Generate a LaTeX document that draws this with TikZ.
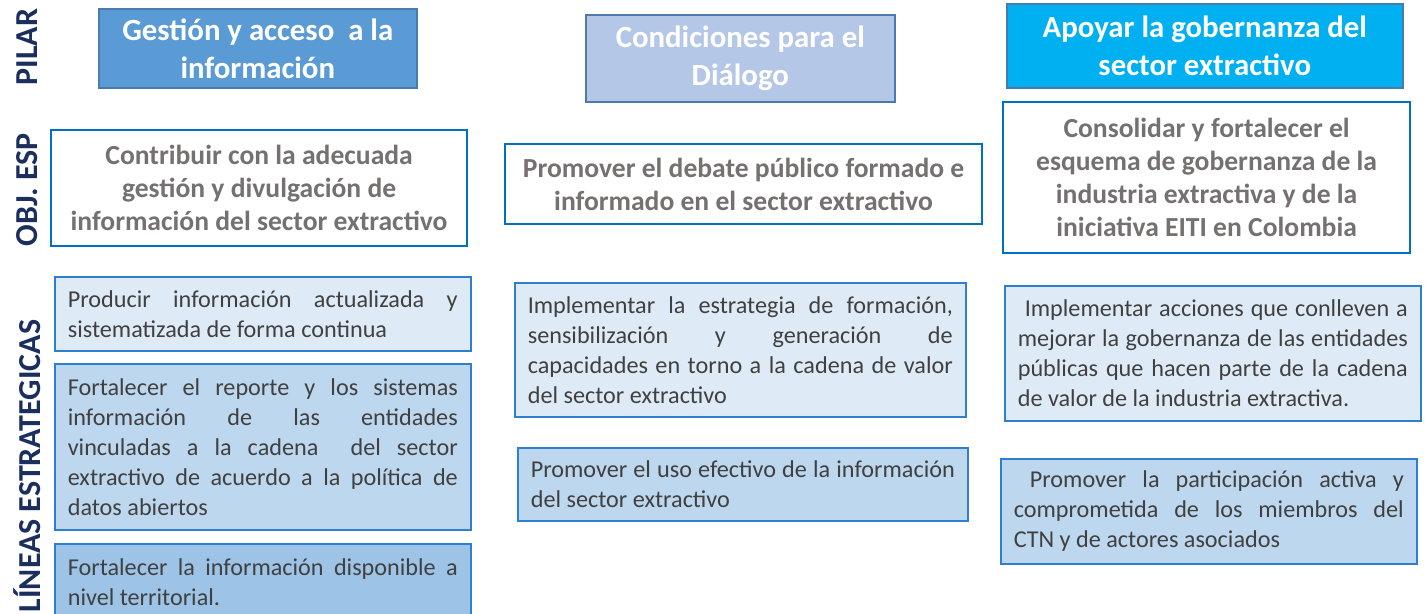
\documentclass[tikz,border=0pt]{standalone}
\usepackage{fontspec}
\setmainfont{Carlito}
\usetikzlibrary{positioning}
\definecolor{pilarA}{HTML}{5B9BD5}
\definecolor{pilarB}{HTML}{B4C7E7}
\definecolor{pilarC}{HTML}{00B0F0}
\definecolor{pilarEdge}{HTML}{4A7AAE}
\definecolor{objEdge}{HTML}{0070C0}
\definecolor{objText}{HTML}{767171}
\definecolor{lineEdge}{HTML}{2E7FCF}
\definecolor{lineText}{HTML}{404040}
\definecolor{fillLight}{HTML}{DEEBF7}
\definecolor{fillMid}{HTML}{BDD7EE}
\definecolor{fillDark}{HTML}{9DC3E6}
\definecolor{navy}{HTML}{1A2F5E}

\begin{document}
\begin{tikzpicture}[x=0.5pt,y=-0.5pt,
  pilarbox/.style={draw=pilarEdge,line width=0.8pt,anchor=north west,inner sep=0pt,
    text=white,align=center,font=\bfseries\fontsize{15.4}{19}\selectfont},
  objbox/.style={draw=objEdge,line width=1.1pt,fill=white,anchor=north west,inner sep=0pt,
    text=objText,align=center,font=\bfseries\fontsize{13.8}{16.5}\selectfont},
  linebox/.style={draw=lineEdge,line width=0.8pt,anchor=north west,inner xsep=6.5pt,inner ysep=0pt,
    text=lineText,align=justify,font=\fontsize{12.1}{15}\selectfont},
  sidelabel/.style={rotate=90,text=navy,font=\bfseries\fontsize{16}{18}\selectfont}]

\clip (0,0) rectangle (1425,614);

% side labels
\node[sidelabel] (pilar) at (27,47) {PILAR};
\node[sidelabel] (objesp) at (27,190) {OBJ. ESP};
\node[sidelabel] (lineas) at (27,466) {LÍNEAS ESTRATEGICAS};

% pilares
\node[pilarbox,fill=pilarA,minimum width=159pt,minimum height=39.5pt] (pilarA) at (98,8)
  {Gestión y acceso \ a la\\información};
\node[pilarbox,fill=pilarB,minimum width=154.5pt,minimum height=43.5pt] (pilarB) at (585,14)
  {Condiciones para el\\Diálogo};
\node[pilarbox,fill=pilarC,minimum width=198pt,minimum height=42pt] (pilarC) at (1006,3)
  {Apoyar la gobernanza del\\sector extractivo};

% objetivos especificos
\node[objbox,minimum width=208pt,minimum height=58pt] (objA) at (50,129)
  {Contribuir con la adecuada\\gestión y divulgación de\\información del sector extractivo};
\node[objbox,minimum width=238.5pt,minimum height=40pt] (objB) at (504,143)
  {Promover el debate público formado e\\informado en el sector extractivo};
\node[objbox,minimum width=203.5pt,minimum height=75.5pt] (objC) at (1002,101)
  {Consolidar y fortalecer el\\esquema de gobernanza de la\\industria extractiva y de la\\iniciativa EITI en Colombia};

% lineas estrategicas
\node[linebox,fill=fillLight,text width=195pt,minimum height=37pt] (lineA1) at (54,276)
  {Producir información actualizada y\linebreak sistematizada de forma continua};
\node[linebox,fill=fillMid,text width=195pt,minimum height=83pt] (lineA2) at (54,363)
  {Fortalecer el reporte y los sistemas\linebreak información de las entidades\linebreak vinculadas a la cadena \ del sector\linebreak extractivo de acuerdo a la política de\linebreak datos abiertos};
\node[linebox,fill=fillDark,text width=195pt,minimum height=38.5pt] (lineA3) at (54,543)
  {Fortalecer la información disponible a\linebreak nivel territorial.};
\node[linebox,fill=fillLight,text width=212.5pt,minimum height=67pt] (lineB1) at (514,282)
  {Implementar la estrategia de formación,\linebreak sensibilización y generación de\linebreak capacidades en torno a la cadena de valor\linebreak del sector extractivo};
\node[linebox,fill=fillMid,text width=212pt,minimum height=36.5pt] (lineB2) at (517,447)
  {Promover el uso efectivo de la información\linebreak del sector extractivo};
\node[linebox,fill=fillLight,text width=195pt,minimum height=67.5pt] (lineC1) at (1004,285)
  {\ Implementar acciones que conlleven a\linebreak mejorar la gobernanza de las entidades\linebreak públicas que hacen parte de la cadena\linebreak de valor de la industria extractiva.};
\node[linebox,fill=fillMid,text width=195pt,minimum height=52.5pt] (lineC2) at (1000,458)
  {\ Promover la participación activa y\linebreak comprometida de los miembros del\linebreak CTN y de actores asociados};

\end{tikzpicture}
\end{document}
